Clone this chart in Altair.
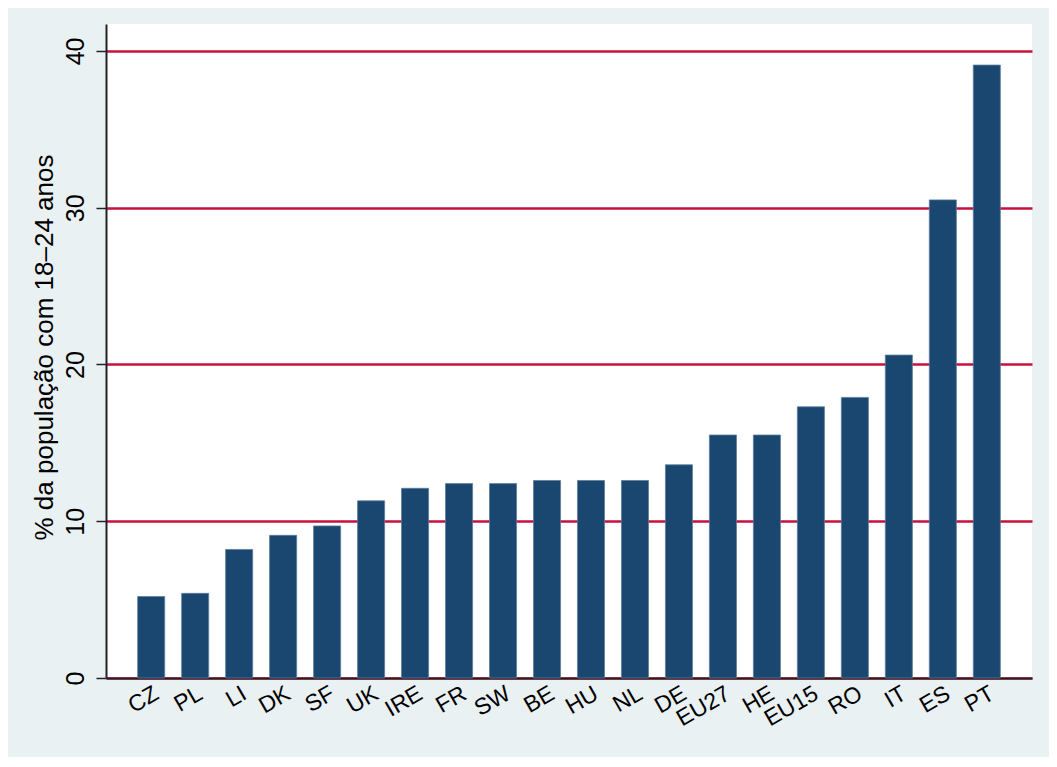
import altair as alt
import pandas as pd

countries = ["CZ", "PL", "LI", "DK", "SF", "UK", "IRE", "FR", "SW", "BE",
             "HU", "NL", "DE", "EU27", "HE", "EU15", "RO", "IT", "ES", "PT"]
values = [5.2, 5.4, 8.2, 9.1, 9.7, 11.3, 12.1, 12.4, 12.4, 12.6,
          12.6, 12.6, 13.6, 15.5, 15.5, 17.3, 17.9, 20.6, 30.5, 39.1]
y_ticks = [0, 10, 20, 30, 40]

df = pd.DataFrame({"pais": countries, "valor": values})

FONT = "Liberation Sans"

chart = alt.Chart(df).mark_bar(
    color="#1A476F", stroke="#5C7C9C", strokeWidth=0.8
).encode(
    x=alt.X("pais:N", sort=None,
            scale=alt.Scale(paddingInner=0.385, paddingOuter=0.72),
            axis=alt.Axis(title=None, labelAngle=330, labelAlign="right",
                          labelBaseline="top", labelPadding=4, ticks=False,
                          tickSize=0, labelFontSize=23, labelFont=FONT,
                          labelColor="#000000", domainColor="#222222",
                          domainWidth=2, grid=False)),
    y=alt.Y("valor:Q",
            scale=alt.Scale(domain=[0, 41.72], nice=False, zero=True),
            axis=alt.Axis(title="% da população com 18–24 anos",
                          values=y_ticks, labelAngle=270, labelAlign="center",
                          labelBaseline="alphabetic", labelPadding=13,
                          tickSize=10, tickWidth=1.5, tickColor="#222222",
                          labelFontSize=25, labelFont=FONT, labelColor="#000000",
                          domainColor="#222222", domainWidth=2,
                          grid=True, gridColor="#C8103C", gridWidth=2.5,
                          titleFont=FONT, titleFontSize=26, titleFontWeight="normal",
                          titleColor="#000000", titleAngle=270, titleAlign="center",
                          titleBaseline="alphabetic", titleX=-54, titleY=323)),
).properties(
    width=926, height=654,
    autosize=alt.AutoSizeParams(type="none"),
    padding={"left": 98, "top": 16, "right": 17, "bottom": 79},
    background="#EAF1F3",
).configure_view(
    fill="#FFFFFF", stroke=None
)

chart.save("out.html", embed_options={"renderer": "svg", "actions": False})
